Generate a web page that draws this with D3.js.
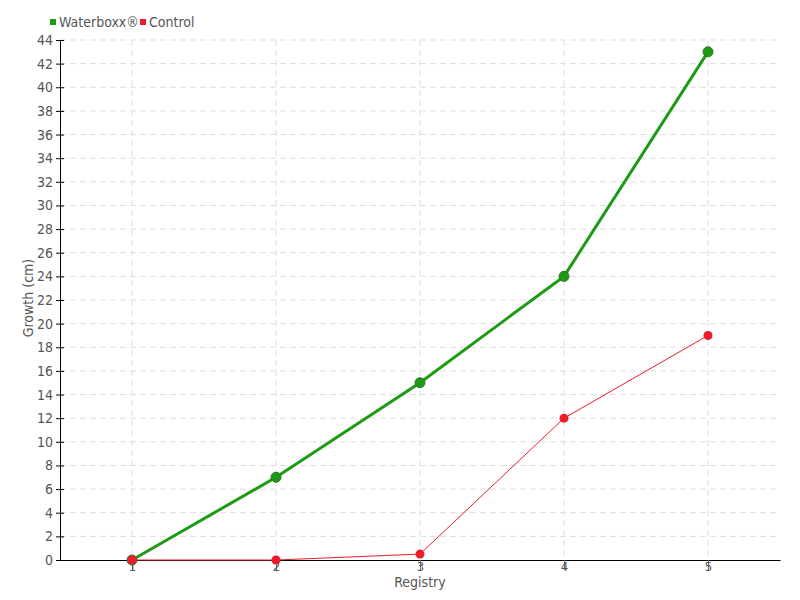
<!DOCTYPE html>
<html>
<head>
<meta charset="utf-8">
<script src="https://cdn.jsdelivr.net/npm/d3@7"></script>
<style>
  body { margin: 0; background: #fff; }
  text { font-family: "Liberation Sans Narrow", "DejaVu Sans Condensed", "Roboto", sans-serif; }
</style>
</head>
<body>
<div id="chart"></div>
<script>
const registries = [1, 2, 3, 4, 5];
const waterboxx = [0, 7, 15, 24, 43];
const control = [0, 0, 0.5, 12, 19];
const yTicks = d3.range(0, 45, 2);

const margin = { top: 40, right: 20, bottom: 40, left: 60 },
  fullWidth = 800,
  fullHeight = 600,
  width = fullWidth - margin.left - margin.right,
  height = fullHeight - margin.top - margin.bottom;

const svg = d3
  .select("#chart")
  .append("svg")
  .attr("width", fullWidth)
  .attr("height", fullHeight)
  .append("g")
  .attr("transform", `translate(${margin.left},${margin.top})`);

const xScale = d3.scalePoint().domain(registries).range([0, width]).padding(0.5);
const yScale = d3.scaleLinear().domain([0, 44]).range([height, 0]);

// grid
svg
  .append("g")
  .selectAll("line.hgrid")
  .data(yTicks.filter((d) => d > 0))
  .enter()
  .append("line")
  .attr("x1", 0)
  .attr("x2", width)
  .attr("y1", (d) => yScale(d))
  .attr("y2", (d) => yScale(d))
  .attr("stroke", "#ddd")
  .attr("stroke-dasharray", "6,4");

svg
  .append("g")
  .selectAll("line.vgrid")
  .data(registries)
  .enter()
  .append("line")
  .attr("x1", (d) => xScale(d))
  .attr("x2", (d) => xScale(d))
  .attr("y1", 0)
  .attr("y2", height)
  .attr("stroke", "#ddd")
  .attr("stroke-dasharray", "6,4");

// axes
const xAxis = svg
  .append("g")
  .attr("transform", `translate(0,${height})`)
  .call(d3.axisBottom(xScale).tickSize(10).tickSizeOuter(0));
xAxis.select(".domain").attr("stroke", "#000");
xAxis.selectAll(".tick line").attr("stroke", "#666");
xAxis.selectAll(".tick text").attr("fill", "#555").style("font-size", "13px").attr("y", 2);

const yAxis = svg
  .append("g")
  .call(d3.axisLeft(yScale).tickValues(yTicks).tickSize(4).tickPadding(3).tickSizeOuter(0));
yAxis.select(".domain").attr("stroke", "#000");
yAxis.selectAll(".tick line").attr("stroke", "#000").attr("x2", 4).attr("x1", -4);
yAxis.selectAll(".tick text").attr("fill", "#555").style("font-size", "14px");

svg
  .append("text")
  .attr("x", width / 2)
  .attr("y", height + 27)
  .style("text-anchor", "middle")
  .style("font-size", "14px")
  .attr("fill", "#555")
  .text("Registry");

svg
  .append("text")
  .attr("transform", "rotate(-90)")
  .attr("x", -height / 2 + 2)
  .attr("y", -27)
  .style("text-anchor", "middle")
  .style("font-size", "14px")
  .attr("fill", "#555")
  .text("Growth (cm)");

const line = d3
  .line()
  .x((d, i) => xScale(registries[i]))
  .y((d) => yScale(d));

// waterboxx series
svg
  .append("path")
  .datum(waterboxx)
  .attr("fill", "none")
  .attr("stroke", "#1f9a14")
  .attr("stroke-width", 3)
  .attr("d", line);

svg
  .selectAll("circle.wb")
  .data(waterboxx)
  .enter()
  .append("circle")
  .attr("cx", (d, i) => xScale(registries[i]))
  .attr("cy", (d) => yScale(d))
  .attr("r", 5)
  .attr("fill", "#1f9a14")
  .attr("stroke", "#2a7a20")
  .attr("stroke-width", 1);

// control series
svg
  .append("path")
  .datum(control)
  .attr("fill", "none")
  .attr("stroke", "#ee1c2a")
  .attr("stroke-width", 1)
  .attr("d", line);

svg
  .selectAll("circle.ct")
  .data(control)
  .enter()
  .append("circle")
  .attr("cx", (d, i) => xScale(registries[i]))
  .attr("cy", (d) => yScale(d))
  .attr("r", 4.5)
  .attr("fill", "#ee1c2a");

// legend
const legendItems = [
  { name: "Waterboxx®", color: "#1f9a14", x: 0 },
  { name: "Control", color: "#ee1c2a", x: 90 }
];
const legend = svg
  .append("g")
  .attr("transform", `translate(${50 - margin.left},${22 - margin.top})`);
const li = legend
  .selectAll("g")
  .data(legendItems)
  .enter()
  .append("g")
  .attr("transform", (d) => `translate(${d.x},0)`);
li.append("rect")
  .attr("x", 0)
  .attr("y", -3)
  .attr("width", 6)
  .attr("height", 6)
  .attr("fill", (d) => d.color);
li.append("text")
  .attr("x", 9)
  .attr("y", 5)
  .style("font-size", "14px")
  .attr("fill", "#555")
  .text((d) => d.name);
</script>
</body>
</html>
